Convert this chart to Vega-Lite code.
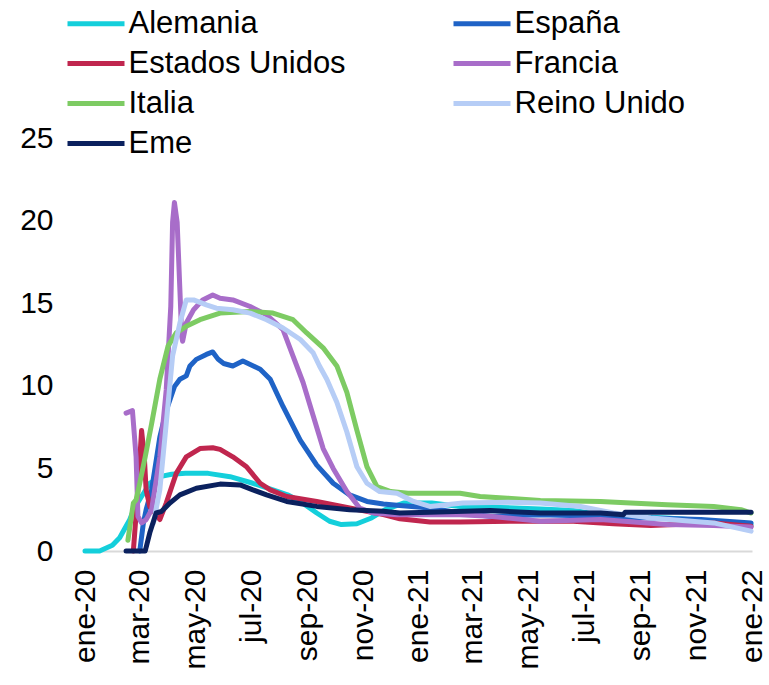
{
  "$schema": "https://vega.github.io/schema/vega-lite/v6.json",
  "width": 667,
  "height": 413,
  "autosize": {"type": "none"},
  "padding": {"left": 85, "top": 138, "right": 17, "bottom": 134},
  "background": "white",
  "config": {
    "view": {"stroke": null},
    "font": "Liberation Sans"
  },
  "data": {
    "values": [
      {"serie": "Alemania", "fecha": "2020-01-01", "valor": 0},
      {"serie": "Alemania", "fecha": "2020-01-17", "valor": 0},
      {"serie": "Alemania", "fecha": "2020-01-31", "valor": 0.35},
      {"serie": "Alemania", "fecha": "2020-02-08", "valor": 0.8},
      {"serie": "Alemania", "fecha": "2020-02-13", "valor": 1.3},
      {"serie": "Alemania", "fecha": "2020-02-19", "valor": 1.9},
      {"serie": "Alemania", "fecha": "2020-02-24", "valor": 2.6},
      {"serie": "Alemania", "fecha": "2020-03-03", "valor": 3.3},
      {"serie": "Alemania", "fecha": "2020-03-12", "valor": 4.1},
      {"serie": "Alemania", "fecha": "2020-03-23", "valor": 4.5},
      {"serie": "Alemania", "fecha": "2020-04-05", "valor": 4.65},
      {"serie": "Alemania", "fecha": "2020-04-20", "valor": 4.7},
      {"serie": "Alemania", "fecha": "2020-05-15", "valor": 4.7},
      {"serie": "Alemania", "fecha": "2020-06-08", "valor": 4.5},
      {"serie": "Alemania", "fecha": "2020-07-03", "valor": 4.1},
      {"serie": "Alemania", "fecha": "2020-07-25", "valor": 3.7},
      {"serie": "Alemania", "fecha": "2020-08-10", "valor": 3.4},
      {"serie": "Alemania", "fecha": "2020-08-24", "valor": 3.0},
      {"serie": "Alemania", "fecha": "2020-09-11", "valor": 2.3},
      {"serie": "Alemania", "fecha": "2020-09-25", "valor": 1.8},
      {"serie": "Alemania", "fecha": "2020-10-08", "valor": 1.6},
      {"serie": "Alemania", "fecha": "2020-10-25", "valor": 1.65},
      {"serie": "Alemania", "fecha": "2020-11-10", "valor": 2.0},
      {"serie": "Alemania", "fecha": "2020-11-25", "valor": 2.5},
      {"serie": "Alemania", "fecha": "2020-12-15", "valor": 2.9},
      {"serie": "Alemania", "fecha": "2021-01-15", "valor": 2.9},
      {"serie": "Alemania", "fecha": "2021-02-15", "valor": 2.7},
      {"serie": "Alemania", "fecha": "2021-03-20", "valor": 2.65},
      {"serie": "Alemania", "fecha": "2021-05-14", "valor": 2.55},
      {"serie": "Alemania", "fecha": "2021-06-19", "valor": 2.45},
      {"serie": "Alemania", "fecha": "2021-07-19", "valor": 2.2},
      {"serie": "Alemania", "fecha": "2021-08-15", "valor": 2.1},
      {"serie": "Alemania", "fecha": "2021-09-30", "valor": 2.0},
      {"serie": "Alemania", "fecha": "2021-11-06", "valor": 1.85},
      {"serie": "Alemania", "fecha": "2021-12-31", "valor": 1.6},

      {"serie": "España", "fecha": "2020-03-01", "valor": 0},
      {"serie": "España", "fecha": "2020-03-05", "valor": 1.7},
      {"serie": "España", "fecha": "2020-03-08", "valor": 2.5},
      {"serie": "España", "fecha": "2020-03-14", "valor": 3.7},
      {"serie": "España", "fecha": "2020-03-23", "valor": 6.9},
      {"serie": "España", "fecha": "2020-03-30", "valor": 8.5},
      {"serie": "España", "fecha": "2020-04-08", "valor": 9.95},
      {"serie": "España", "fecha": "2020-04-14", "valor": 10.4},
      {"serie": "España", "fecha": "2020-04-21", "valor": 10.6},
      {"serie": "España", "fecha": "2020-04-25", "valor": 11.2},
      {"serie": "España", "fecha": "2020-05-02", "valor": 11.6},
      {"serie": "España", "fecha": "2020-05-13", "valor": 11.9},
      {"serie": "España", "fecha": "2020-05-20", "valor": 12.05},
      {"serie": "España", "fecha": "2020-05-26", "valor": 11.6},
      {"serie": "España", "fecha": "2020-06-01", "valor": 11.35},
      {"serie": "España", "fecha": "2020-06-11", "valor": 11.2},
      {"serie": "España", "fecha": "2020-06-22", "valor": 11.5},
      {"serie": "España", "fecha": "2020-07-11", "valor": 11.0},
      {"serie": "España", "fecha": "2020-07-22", "valor": 10.4},
      {"serie": "España", "fecha": "2020-08-05", "valor": 8.75},
      {"serie": "España", "fecha": "2020-08-24", "valor": 6.7},
      {"serie": "España", "fecha": "2020-09-11", "valor": 5.2},
      {"serie": "España", "fecha": "2020-09-29", "valor": 4.1},
      {"serie": "España", "fecha": "2020-10-17", "valor": 3.4},
      {"serie": "España", "fecha": "2020-11-05", "valor": 3.0},
      {"serie": "España", "fecha": "2020-11-23", "valor": 2.85},
      {"serie": "España", "fecha": "2020-12-11", "valor": 2.75},
      {"serie": "España", "fecha": "2021-01-13", "valor": 2.6},
      {"serie": "España", "fecha": "2021-02-15", "valor": 2.3},
      {"serie": "España", "fecha": "2021-03-20", "valor": 2.1},
      {"serie": "España", "fecha": "2021-05-14", "valor": 2.2},
      {"serie": "España", "fecha": "2021-07-19", "valor": 2.1},
      {"serie": "España", "fecha": "2021-09-12", "valor": 2.0},
      {"serie": "España", "fecha": "2021-11-06", "valor": 1.9},
      {"serie": "España", "fecha": "2021-12-31", "valor": 1.7},

      {"serie": "Estados Unidos", "fecha": "2020-02-23", "valor": 0},
      {"serie": "Estados Unidos", "fecha": "2020-02-28", "valor": 3.7},
      {"serie": "Estados Unidos", "fecha": "2020-03-03", "valor": 7.3},
      {"serie": "Estados Unidos", "fecha": "2020-03-06", "valor": 5.7},
      {"serie": "Estados Unidos", "fecha": "2020-03-08", "valor": 3.7},
      {"serie": "Estados Unidos", "fecha": "2020-03-12", "valor": 2.7},
      {"serie": "Estados Unidos", "fecha": "2020-03-23", "valor": 1.9},
      {"serie": "Estados Unidos", "fecha": "2020-03-30", "valor": 2.9},
      {"serie": "Estados Unidos", "fecha": "2020-04-10", "valor": 4.7},
      {"serie": "Estados Unidos", "fecha": "2020-04-21", "valor": 5.7},
      {"serie": "Estados Unidos", "fecha": "2020-05-06", "valor": 6.2},
      {"serie": "Estados Unidos", "fecha": "2020-05-20", "valor": 6.25},
      {"serie": "Estados Unidos", "fecha": "2020-05-28", "valor": 6.15},
      {"serie": "Estados Unidos", "fecha": "2020-06-11", "valor": 5.7},
      {"serie": "Estados Unidos", "fecha": "2020-06-26", "valor": 5.1},
      {"serie": "Estados Unidos", "fecha": "2020-07-11", "valor": 4.1},
      {"serie": "Estados Unidos", "fecha": "2020-07-22", "valor": 3.7},
      {"serie": "Estados Unidos", "fecha": "2020-08-09", "valor": 3.3},
      {"serie": "Estados Unidos", "fecha": "2020-09-11", "valor": 3.0},
      {"serie": "Estados Unidos", "fecha": "2020-10-17", "valor": 2.6},
      {"serie": "Estados Unidos", "fecha": "2020-11-23", "valor": 2.2},
      {"serie": "Estados Unidos", "fecha": "2020-12-11", "valor": 1.95},
      {"serie": "Estados Unidos", "fecha": "2021-01-13", "valor": 1.75},
      {"serie": "Estados Unidos", "fecha": "2021-02-15", "valor": 1.75},
      {"serie": "Estados Unidos", "fecha": "2021-04-14", "valor": 1.8},
      {"serie": "Estados Unidos", "fecha": "2021-06-19", "valor": 1.8},
      {"serie": "Estados Unidos", "fecha": "2021-08-02", "valor": 1.65},
      {"serie": "Estados Unidos", "fecha": "2021-09-12", "valor": 1.55},
      {"serie": "Estados Unidos", "fecha": "2021-11-20", "valor": 1.7},
      {"serie": "Estados Unidos", "fecha": "2021-12-31", "valor": 1.5},

      {"serie": "Francia", "fecha": "2020-02-15", "valor": 8.35},
      {"serie": "Francia", "fecha": "2020-02-22", "valor": 8.5},
      {"serie": "Francia", "fecha": "2020-02-26", "valor": 5.7},
      {"serie": "Francia", "fecha": "2020-02-28", "valor": 2.1},
      {"serie": "Francia", "fecha": "2020-03-03", "valor": 1.7},
      {"serie": "Francia", "fecha": "2020-03-08", "valor": 1.9},
      {"serie": "Francia", "fecha": "2020-03-14", "valor": 2.5},
      {"serie": "Francia", "fecha": "2020-03-23", "valor": 5.7},
      {"serie": "Francia", "fecha": "2020-03-30", "valor": 9.75},
      {"serie": "Francia", "fecha": "2020-04-04", "valor": 14.8},
      {"serie": "Francia", "fecha": "2020-04-06", "valor": 19.9},
      {"serie": "Francia", "fecha": "2020-04-08", "valor": 21.1},
      {"serie": "Francia", "fecha": "2020-04-11", "valor": 19.9},
      {"serie": "Francia", "fecha": "2020-04-14", "valor": 15.8},
      {"serie": "Francia", "fecha": "2020-04-16", "valor": 13.0},
      {"serie": "Francia", "fecha": "2020-04-17", "valor": 12.7},
      {"serie": "Francia", "fecha": "2020-04-21", "valor": 13.8},
      {"serie": "Francia", "fecha": "2020-04-29", "valor": 14.6},
      {"serie": "Francia", "fecha": "2020-05-09", "valor": 15.2},
      {"serie": "Francia", "fecha": "2020-05-20", "valor": 15.5},
      {"serie": "Francia", "fecha": "2020-05-28", "valor": 15.3},
      {"serie": "Francia", "fecha": "2020-06-11", "valor": 15.2},
      {"serie": "Francia", "fecha": "2020-06-30", "valor": 14.8},
      {"serie": "Francia", "fecha": "2020-07-18", "valor": 14.3},
      {"serie": "Francia", "fecha": "2020-08-05", "valor": 13.4},
      {"serie": "Francia", "fecha": "2020-08-16", "valor": 11.8},
      {"serie": "Francia", "fecha": "2020-08-27", "valor": 10.2},
      {"serie": "Francia", "fecha": "2020-09-07", "valor": 8.2},
      {"serie": "Francia", "fecha": "2020-09-18", "valor": 6.2},
      {"serie": "Francia", "fecha": "2020-09-29", "valor": 5.0},
      {"serie": "Francia", "fecha": "2020-10-14", "valor": 3.6},
      {"serie": "Francia", "fecha": "2020-10-28", "valor": 2.6},
      {"serie": "Francia", "fecha": "2020-11-12", "valor": 2.3},
      {"serie": "Francia", "fecha": "2020-12-08", "valor": 2.2},
      {"serie": "Francia", "fecha": "2021-01-13", "valor": 2.2},
      {"serie": "Francia", "fecha": "2021-02-15", "valor": 2.2},
      {"serie": "Francia", "fecha": "2021-03-20", "valor": 2.1},
      {"serie": "Francia", "fecha": "2021-05-14", "valor": 1.8},
      {"serie": "Francia", "fecha": "2021-07-19", "valor": 1.9},
      {"serie": "Francia", "fecha": "2021-09-30", "valor": 1.6},
      {"serie": "Francia", "fecha": "2021-11-20", "valor": 1.55},
      {"serie": "Francia", "fecha": "2021-12-31", "valor": 1.45},

      {"serie": "Italia", "fecha": "2020-02-17", "valor": 0.65},
      {"serie": "Italia", "fecha": "2020-02-23", "valor": 2.9},
      {"serie": "Italia", "fecha": "2020-02-26", "valor": 3.1},
      {"serie": "Italia", "fecha": "2020-03-01", "valor": 4.1},
      {"serie": "Italia", "fecha": "2020-03-07", "valor": 5.7},
      {"serie": "Italia", "fecha": "2020-03-14", "valor": 7.7},
      {"serie": "Italia", "fecha": "2020-03-23", "valor": 10.4},
      {"serie": "Italia", "fecha": "2020-04-01", "valor": 12.4},
      {"serie": "Italia", "fecha": "2020-04-10", "valor": 13.2},
      {"serie": "Italia", "fecha": "2020-04-21", "valor": 13.6},
      {"serie": "Italia", "fecha": "2020-05-06", "valor": 14.0},
      {"serie": "Italia", "fecha": "2020-05-28", "valor": 14.4},
      {"serie": "Italia", "fecha": "2020-06-30", "valor": 14.5},
      {"serie": "Italia", "fecha": "2020-07-25", "valor": 14.4},
      {"serie": "Italia", "fecha": "2020-08-16", "valor": 14.0},
      {"serie": "Italia", "fecha": "2020-08-31", "valor": 13.2},
      {"serie": "Italia", "fecha": "2020-09-18", "valor": 12.3},
      {"serie": "Italia", "fecha": "2020-10-03", "valor": 11.2},
      {"serie": "Italia", "fecha": "2020-10-14", "valor": 9.6},
      {"serie": "Italia", "fecha": "2020-10-25", "valor": 7.3},
      {"serie": "Italia", "fecha": "2020-11-05", "valor": 5.1},
      {"serie": "Italia", "fecha": "2020-11-16", "valor": 3.9},
      {"serie": "Italia", "fecha": "2020-12-01", "valor": 3.6},
      {"serie": "Italia", "fecha": "2020-12-20", "valor": 3.5},
      {"serie": "Italia", "fecha": "2021-02-15", "valor": 3.5},
      {"serie": "Italia", "fecha": "2021-03-09", "valor": 3.3},
      {"serie": "Italia", "fecha": "2021-04-08", "valor": 3.2},
      {"serie": "Italia", "fecha": "2021-05-14", "valor": 3.05},
      {"serie": "Italia", "fecha": "2021-07-19", "valor": 3.0},
      {"serie": "Italia", "fecha": "2021-08-21", "valor": 2.9},
      {"serie": "Italia", "fecha": "2021-09-30", "valor": 2.8},
      {"serie": "Italia", "fecha": "2021-11-20", "valor": 2.7},
      {"serie": "Italia", "fecha": "2021-12-20", "valor": 2.5},
      {"serie": "Italia", "fecha": "2021-12-31", "valor": 2.3},

      {"serie": "Reino Unido", "fecha": "2020-03-16", "valor": 1.7},
      {"serie": "Reino Unido", "fecha": "2020-03-23", "valor": 3.7},
      {"serie": "Reino Unido", "fecha": "2020-03-30", "valor": 7.7},
      {"serie": "Reino Unido", "fecha": "2020-04-06", "valor": 11.8},
      {"serie": "Reino Unido", "fecha": "2020-04-14", "valor": 13.8},
      {"serie": "Reino Unido", "fecha": "2020-04-21", "valor": 15.2},
      {"serie": "Reino Unido", "fecha": "2020-04-29", "valor": 15.2},
      {"serie": "Reino Unido", "fecha": "2020-05-13", "valor": 14.9},
      {"serie": "Reino Unido", "fecha": "2020-05-24", "valor": 14.7},
      {"serie": "Reino Unido", "fecha": "2020-06-11", "valor": 14.6},
      {"serie": "Reino Unido", "fecha": "2020-06-30", "valor": 14.4},
      {"serie": "Reino Unido", "fecha": "2020-07-18", "valor": 14.0},
      {"serie": "Reino Unido", "fecha": "2020-08-05", "valor": 13.5},
      {"serie": "Reino Unido", "fecha": "2020-08-24", "valor": 12.8},
      {"serie": "Reino Unido", "fecha": "2020-09-07", "valor": 12.0},
      {"serie": "Reino Unido", "fecha": "2020-09-14", "valor": 11.2},
      {"serie": "Reino Unido", "fecha": "2020-09-22", "valor": 10.4},
      {"serie": "Reino Unido", "fecha": "2020-10-03", "valor": 9.0},
      {"serie": "Reino Unido", "fecha": "2020-10-14", "valor": 7.2},
      {"serie": "Reino Unido", "fecha": "2020-10-25", "valor": 5.1},
      {"serie": "Reino Unido", "fecha": "2020-11-05", "valor": 4.1},
      {"serie": "Reino Unido", "fecha": "2020-11-19", "valor": 3.6},
      {"serie": "Reino Unido", "fecha": "2020-12-08", "valor": 3.5},
      {"serie": "Reino Unido", "fecha": "2020-12-26", "valor": 3.0},
      {"serie": "Reino Unido", "fecha": "2021-01-13", "valor": 2.7},
      {"serie": "Reino Unido", "fecha": "2021-02-18", "valor": 2.9},
      {"serie": "Reino Unido", "fecha": "2021-04-08", "valor": 2.95},
      {"serie": "Reino Unido", "fecha": "2021-05-14", "valor": 2.9},
      {"serie": "Reino Unido", "fecha": "2021-06-27", "valor": 2.7},
      {"serie": "Reino Unido", "fecha": "2021-08-02", "valor": 2.3},
      {"serie": "Reino Unido", "fecha": "2021-09-12", "valor": 2.0},
      {"serie": "Reino Unido", "fecha": "2021-11-20", "valor": 1.7},
      {"serie": "Reino Unido", "fecha": "2021-12-31", "valor": 1.2},

      {"serie": "Eme", "fecha": "2020-02-15", "valor": 0},
      {"serie": "Eme", "fecha": "2020-03-07", "valor": 0},
      {"serie": "Eme", "fecha": "2020-03-12", "valor": 1.1},
      {"serie": "Eme", "fecha": "2020-03-19", "valor": 2.3},
      {"serie": "Eme", "fecha": "2020-03-25", "valor": 2.4},
      {"serie": "Eme", "fecha": "2020-04-03", "valor": 2.9},
      {"serie": "Eme", "fecha": "2020-04-14", "valor": 3.4},
      {"serie": "Eme", "fecha": "2020-05-02", "valor": 3.8},
      {"serie": "Eme", "fecha": "2020-05-28", "valor": 4.05},
      {"serie": "Eme", "fecha": "2020-06-19", "valor": 4.0},
      {"serie": "Eme", "fecha": "2020-07-03", "valor": 3.7},
      {"serie": "Eme", "fecha": "2020-07-18", "valor": 3.4},
      {"serie": "Eme", "fecha": "2020-08-09", "valor": 3.0},
      {"serie": "Eme", "fecha": "2020-09-11", "valor": 2.7},
      {"serie": "Eme", "fecha": "2020-10-17", "valor": 2.5},
      {"serie": "Eme", "fecha": "2020-11-23", "valor": 2.4},
      {"serie": "Eme", "fecha": "2020-12-11", "valor": 2.3},
      {"serie": "Eme", "fecha": "2021-01-13", "valor": 2.35},
      {"serie": "Eme", "fecha": "2021-03-20", "valor": 2.45},
      {"serie": "Eme", "fecha": "2021-05-14", "valor": 2.3},
      {"serie": "Eme", "fecha": "2021-07-19", "valor": 2.3},
      {"serie": "Eme", "fecha": "2021-08-13", "valor": 2.2},
      {"serie": "Eme", "fecha": "2021-08-15", "valor": 2.35},
      {"serie": "Eme", "fecha": "2021-12-31", "valor": 2.35}
    ]
  },
  "mark": {"type": "line", "strokeWidth": 5, "strokeJoin": "round", "strokeCap": "round"},
  "encoding": {
    "x": {
      "field": "fecha",
      "type": "temporal",
      "scale": {
        "type": "utc",
        "domain": [{"year": 2020, "month": 1, "date": 1, "utc": true}, {"year": 2022, "month": 1, "date": 1, "utc": true}]
      },
      "axis": {
        "title": null,
        "values": [
          {"year": 2020, "month": 1, "date": 1, "utc": true},
          {"year": 2020, "month": 3, "date": 1, "utc": true},
          {"year": 2020, "month": 5, "date": 1, "utc": true},
          {"year": 2020, "month": 7, "date": 1, "utc": true},
          {"year": 2020, "month": 9, "date": 1, "utc": true},
          {"year": 2020, "month": 11, "date": 1, "utc": true},
          {"year": 2021, "month": 1, "date": 1, "utc": true},
          {"year": 2021, "month": 3, "date": 1, "utc": true},
          {"year": 2021, "month": 5, "date": 1, "utc": true},
          {"year": 2021, "month": 7, "date": 1, "utc": true},
          {"year": 2021, "month": 9, "date": 1, "utc": true},
          {"year": 2021, "month": 11, "date": 1, "utc": true},
          {"year": 2022, "month": 1, "date": 1, "utc": true}
        ],
        "labelExpr": "['ene','feb','mar','abr','may','jun','jul','ago','sep','oct','nov','dic'][utcmonth(datum.value)] + '-' + utcFormat(datum.value, '%y')",
        "labelAngle": -90,
        "labelFontSize": 30,
        "labelColor": "#000000",
        "labelPadding": 18,
        "labelOverlap": false,
        "labelFlush": false,
        "ticks": false,
        "grid": false,
        "domainColor": "#d9d9d9",
        "domainWidth": 2
      }
    },
    "y": {
      "field": "valor",
      "type": "quantitative",
      "scale": {"domain": [0, 25], "nice": false},
      "axis": {
        "title": null,
        "values": [0, 5, 10, 15, 20, 25],
        "labelFontSize": 30,
        "labelColor": "#000000",
        "labelPadding": 32,
        "ticks": false,
        "domain": false,
        "grid": false
      }
    },
    "color": {
      "field": "serie",
      "type": "nominal",
      "sort": ["Alemania", "España", "Estados Unidos", "Francia", "Italia", "Reino Unido", "Eme"],
      "scale": {
        "domain": ["Alemania", "España", "Estados Unidos", "Francia", "Italia", "Reino Unido", "Eme"],
        "range": ["#14CFDB", "#1F63C6", "#C0264E", "#A86DC9", "#7DCB63", "#B6CDF6", "#0B215E"]
      },
      "legend": {
        "title": null,
        "orient": "none",
        "legendX": -11.5,
        "legendY": -137,
        "direction": "horizontal",
        "columns": 2,
        "columnPadding": 97,
        "rowPadding": 2,
        "symbolType": "M-1.425,0H1.425",
        "symbolSize": 1600,
        "symbolStrokeWidth": 5,
        "symbolFillColor": "transparent",
        "labelFontSize": 31,
        "labelColor": "#000000",
        "labelOffset": 10,
        "labelLimit": 400
      }
    }
  }
}
